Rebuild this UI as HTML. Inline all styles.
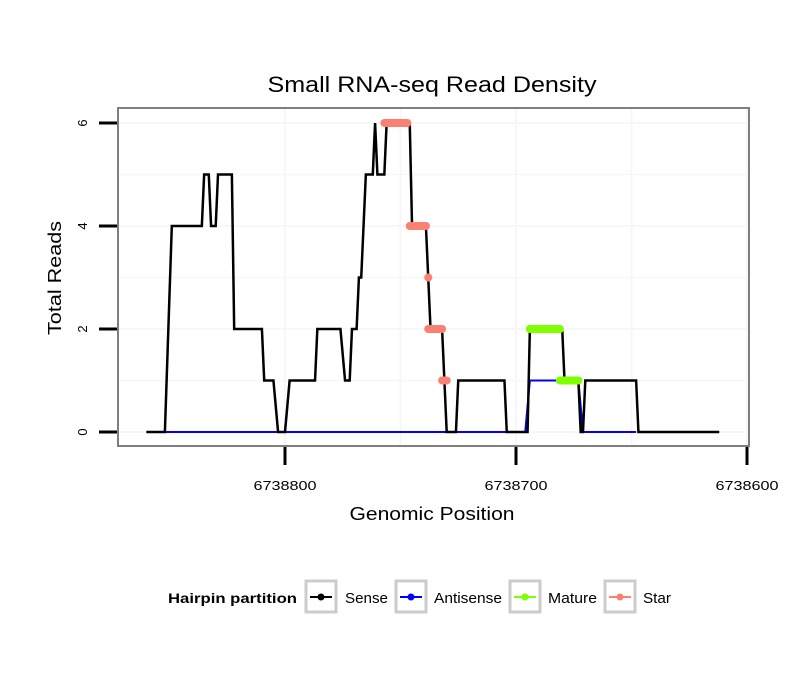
<!DOCTYPE html>
<html><head><meta charset="utf-8"><style>
body{margin:0;background:#fff}
svg{display:block;font-family:"Liberation Sans",sans-serif}
</style></head><body>
<svg id="chart" width="810" height="690">
<text x="432" y="92" text-anchor="middle" font-size="22" textLength="329" lengthAdjust="spacingAndGlyphs">Small RNA-seq Read Density</text>
<rect x="118" y="108" width="631" height="338" fill="#fff" stroke="#7f7f7f" stroke-width="2"/>
<g id="grid"></g><g id="series"></g><g id="axes"></g>
<text x="432" y="520" text-anchor="middle" font-size="18" textLength="165" lengthAdjust="spacingAndGlyphs">Genomic Position</text>
<text transform="translate(61,278) rotate(-90)" text-anchor="middle" font-size="18" textLength="114" lengthAdjust="spacingAndGlyphs">Total Reads</text>
<g>
<text x="168" y="603" font-size="14" font-weight="bold" textLength="129" lengthAdjust="spacingAndGlyphs">Hairpin partition</text>
<g><rect x="306" y="581" width="30" height="31" fill="#fff" stroke="#ccc" stroke-width="3"/><line x1="310" x2="332" y1="597" y2="597" stroke="#000" stroke-width="2"/><circle cx="321" cy="597" r="3.5" fill="#000"/><text x="345" y="603" font-size="15" textLength="43" lengthAdjust="spacingAndGlyphs">Sense</text></g>
<g><rect x="396" y="581" width="30" height="31" fill="#fff" stroke="#ccc" stroke-width="3"/><line x1="400" x2="422" y1="597" y2="597" stroke="#00f" stroke-width="2"/><circle cx="411" cy="597" r="3.5" fill="#00f"/><text x="434" y="603" font-size="15" textLength="68" lengthAdjust="spacingAndGlyphs">Antisense</text></g>
<g><rect x="510" y="581" width="30" height="31" fill="#fff" stroke="#ccc" stroke-width="3"/><line x1="514" x2="536" y1="597" y2="597" stroke="#7fff00" stroke-width="2"/><circle cx="525" cy="597" r="3.5" fill="#7fff00"/><text x="548" y="603" font-size="15" textLength="49" lengthAdjust="spacingAndGlyphs">Mature</text></g>
<g><rect x="605" y="581" width="30" height="31" fill="#fff" stroke="#ccc" stroke-width="3"/><line x1="609" x2="631" y1="597" y2="597" stroke="#fa8072" stroke-width="2"/><circle cx="620" cy="597" r="3.5" fill="#fa8072"/><text x="643" y="603" font-size="15" textLength="28" lengthAdjust="spacingAndGlyphs">Star</text></g>
</g>
</svg>
<script>
const xTicks=[6738800,6738700,6738600];
const yTicks=[0,2,4,6];
const senseX=[6738860,6738852,6738849,6738836,6738835,6738833,6738832,6738830,6738829,6738823,6738822,6738810,6738809,6738805,6738803,6738800,6738798,6738787,6738786,6738776,6738774,6738772,6738771,6738769,6738768,6738767,6738765,6738762,6738761,6738760,6738757,6738756,6738746,6738745,6738739,6738738,6738737,6738732,6738731,6738730,6738726,6738725,6738705,6738704,6738695,6738694,6738680,6738679,6738673,6738672,6738671,6738670,6738648,6738647,6738612];
const senseY=[0,0,4,4,5,5,4,4,5,5,2,2,1,1,0,0,1,1,2,2,1,1,2,2,3,3,5,5,6,5,5,6,6,4,4,3,2,2,1,0,0,1,1,0,0,2,2,1,1,0,0,1,1,0,0];
const antiX=[6738860,6738696,6738694,6738673,6738671,6738648];
const antiY=[0,0,1,1,0,0];
const starStart=[6738757,6738746,6738738,6738738,6738732];
const starEnd=[6738747,6738739,6738738,6738732,6738730];
const starY=[6,4,3,2,1];
const matStart=[6738694,6738681];
const matEnd=[6738681,6738673];
const matY=[2,1];
const NS="http://www.w3.org/2000/svg";
const xs=p=>285+(6738800-p)*2.31;
const ys=v=>432-v*51.5;
function mk(tag,attrs,parent){const e=document.createElementNS(NS,tag);for(const k in attrs)e.setAttribute(k,attrs[k]);parent.appendChild(e);return e;}
const grid=document.getElementById('grid'),series=document.getElementById('series'),axes=document.getElementById('axes');
[1,3,5].concat(yTicks).forEach(v=>{const l=mk('line',{x1:119,x2:748,y1:ys(v),y2:ys(v),stroke:'#f7f7f7','stroke-width':yTicks.includes(v)?2:1.5},grid);

});
[6738750,6738650].concat(xTicks).forEach(p=>{const x=xs(p);if(x<119||x>748)return;const l=mk('line',{x1:x,x2:x,y1:109,y2:445,stroke:'#f7f7f7','stroke-width':2},grid);

});
yTicks.forEach(v=>{const t=mk('line',{x1:99,x2:117,y1:ys(v),y2:ys(v),stroke:'#000','stroke-width':3},axes);


const tx=mk('text',{transform:`translate(87,${ys(v)}) rotate(-90)`,'text-anchor':'middle','font-size':13},axes);tx.textContent=v;

});
xTicks.forEach(p=>{const t=mk('line',{x1:xs(p),x2:xs(p),y1:447,y2:465,stroke:'#000','stroke-width':3},axes);


const tx=mk('text',{x:xs(p),y:490,'text-anchor':'middle','font-size':13,textLength:63,lengthAdjust:'spacingAndGlyphs'},axes);tx.textContent=p;

});
const anti=mk('polyline',{points:antiX.map((p,i)=>xs(p)+','+ys(antiY[i])).join(' '),fill:'none',stroke:'#00f','stroke-width':2},series);


const sense=mk('polyline',{points:senseX.map((p,i)=>xs(p)+','+ys(senseY[i])).join(' '),fill:'none',stroke:'#000','stroke-width':2.5},series);


function seg(s,e,v,col,name){const x1=xs(s),x2=xs(e);const l=mk('line',{x1:x1,x2:x2===x1?x1+0.1:x2,y1:ys(v),y2:ys(v),stroke:col,'stroke-width':8,'stroke-linecap':'round'},series);

}
starY.forEach((v,i)=>seg(starStart[i],starEnd[i],v,'#fa8072','star-segment'));
matY.forEach((v,i)=>seg(matStart[i],matEnd[i],v,'#7fff00','mature-segment'));
</script>
</body></html>
